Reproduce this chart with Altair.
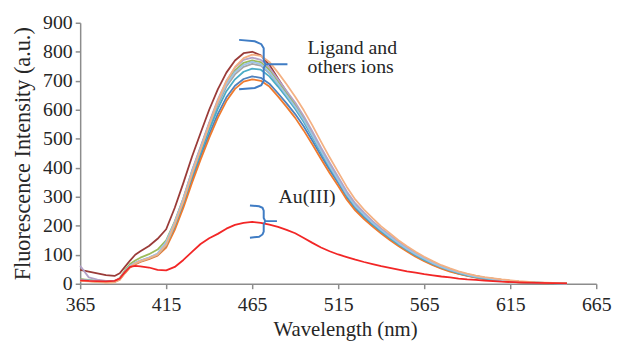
import altair as alt
import pandas as pd

wavelength = [365, 370, 375, 380, 385, 388, 391, 394, 397, 400, 405, 410, 415, 420, 425,
              430, 435, 440, 445, 450, 455, 460, 465, 470, 475, 480, 485, 490, 495, 500,
              505, 510, 515, 520, 525, 530, 535, 540, 545, 550, 555, 560, 565, 570, 575,
              580, 585, 590, 595, 600, 610, 620, 630, 640, 648]

brown = [48, 42, 36, 30, 27, 36, 58, 80, 100, 112, 130, 155, 188, 262, 348, 438, 520, 600, 670,
         728, 770, 795, 800, 788, 755, 708, 662, 615, 568, 515, 460, 408, 360, 310, 270, 240,
         212, 187, 164, 142, 122, 103, 87, 72, 59, 49, 40, 32, 26, 21, 13, 7, 4, 2, 0]
blue = [15, 12, 9, 7, 8, 17, 40, 60, 70, 78, 88, 100, 130, 195, 272, 360, 440, 515, 585, 643,
        683, 706, 715, 710, 690, 657, 622, 585, 542, 493, 442, 393, 347, 298, 259, 229, 202,
        178, 155, 133, 114, 96, 80, 66, 54, 44, 35, 28, 22, 17, 10, 5, 3, 1, 0]
orange = [11, 9, 7, 5, 6, 14, 36, 56, 67, 75, 85, 97, 125, 186, 262, 348, 428, 503, 572, 630,
          672, 697, 705, 700, 680, 646, 610, 572, 528, 480, 430, 382, 337, 290, 252, 223, 197,
          173, 151, 130, 111, 93, 78, 64, 52, 42, 34, 27, 21, 16, 9, 5, 2, 1, 0]
gray = [12, 10, 8, 6, 7, 16, 40, 60, 70, 78, 88, 101, 136, 206, 286, 378, 460, 540, 617, 680,
        722, 748, 758, 752, 726, 688, 648, 608, 562, 510, 456, 404, 356, 306, 266, 236, 208,
        183, 160, 138, 118, 100, 84, 70, 57, 47, 38, 30, 24, 19, 11, 6, 3, 1, 0]
green = [16, 13, 10, 8, 9, 20, 46, 68, 80, 90, 102, 118, 150, 215, 295, 388, 470, 552, 630, 693,
         736, 762, 770, 764, 738, 698, 658, 618, 572, 518, 463, 411, 362, 312, 272, 241, 213,
         188, 165, 142, 122, 104, 88, 73, 60, 49, 40, 32, 26, 21, 13, 7, 4, 2, 0]
purple = [62, 22, 14, 10, 10, 18, 42, 62, 72, 80, 90, 103, 142, 212, 295, 390, 472, 556, 635,
          700, 745, 772, 780, 772, 745, 705, 665, 625, 578, 525, 470, 418, 368, 318, 277, 245,
          216, 190, 167, 144, 124, 105, 89, 74, 60, 50, 40, 32, 26, 21, 13, 7, 4, 2, 0]
aqua = [13, 11, 9, 7, 8, 17, 40, 60, 70, 78, 88, 100, 133, 200, 280, 370, 450, 530, 603, 664,
        705, 731, 742, 738, 715, 680, 642, 603, 558, 506, 452, 401, 354, 304, 264, 234, 206,
        181, 158, 136, 116, 98, 82, 68, 56, 46, 37, 29, 23, 18, 11, 6, 3, 1, 0]
lightblue = [14, 12, 10, 7, 8, 18, 42, 62, 72, 80, 90, 104, 145, 212, 292, 385, 466, 548, 625,
             688, 730, 755, 765, 757, 730, 690, 650, 610, 565, 512, 458, 406, 358, 308, 268,
             238, 210, 185, 162, 140, 120, 102, 86, 71, 58, 48, 39, 31, 25, 20, 12, 7, 4, 2, 0]
salmon = [10, 8, 6, 4, 5, 14, 38, 58, 70, 78, 88, 100, 135, 205, 285, 378, 462, 548, 630, 698,
          748, 778, 790, 786, 765, 728, 688, 645, 598, 546, 490, 436, 385, 334, 290, 256, 226,
          198, 174, 150, 129, 110, 93, 78, 64, 53, 43, 35, 28, 23, 15, 9, 5, 3, 1]
au_iii = [12, 10, 9, 8, 10, 18, 40, 58, 62, 60, 56, 48, 46, 58, 82, 110, 137, 157, 172, 190,
          203, 210, 213, 210, 204, 196, 186, 174, 158, 141, 125, 112, 101, 92, 83, 75, 68, 61,
          55, 49, 43, 38, 33, 29, 25, 22, 18, 15, 13, 11, 7, 5, 3, 2, 1]

series_names = ["brown", "blue", "orange", "gray", "green", "purple", "aqua", "lightblue",
                "salmon", "Au(III)"]
series_values = [brown, blue, orange, gray, green, purple, aqua, lightblue, salmon, au_iii]
series_colors = ["#9A3B38", "#4F81BD", "#EE7A2E", "#A5A5A5", "#9BBB59", "#B3A2C7", "#4BACC6",
                 "#9DC3E6", "#F4B183", "#F22626"]

x_ticks = [365, 415, 465, 515, 565, 615, 665]
y_ticks = [0, 100, 200, 300, 400, 500, 600, 700, 800, 900]

# annotation braces (data coordinates), drawn point by point in order k
brace_id = ["top"] * 13 + ["low"] * 13
brace_x = [457.4, 466.5, 470.3, 471.7, 471.7, 472.8, 485.5, 472.8, 471.7, 471.7, 470.3, 466.5, 457.4,
           463.7, 469.0, 471.0, 471.7, 471.7, 472.6, 479.4, 472.6, 471.7, 471.7, 471.0, 469.0, 463.7]
brace_y = [841, 836, 826, 812, 770, 757, 757, 757, 743, 700, 685, 675, 671,
           270, 267, 262, 252, 227, 216, 216, 216, 205, 180, 170, 162, 159]

label_text = ["Ligand and", "others ions", "Au(III)"]
label_x = [497.2, 497.2, 480.3]
label_y = [792, 727, 280]

rows = []
for name, vals in zip(series_names, series_values):
    for w, v in zip(wavelength, vals):
        rows.append({"series": name, "wavelength": w, "intensity": v})
df = pd.DataFrame(rows)

bdf = pd.DataFrame({"brace": brace_id, "wavelength": brace_x, "intensity": brace_y,
                    "k": list(range(len(brace_x)))})
tdf = pd.DataFrame({"t": label_text, "wavelength": label_x, "intensity": label_y})

FONT = "Liberation Serif"
TXT = "#262626"
AX = "#8C8C8C"

xs = alt.Scale(domain=[365, 665], nice=False, zero=False)
ys = alt.Scale(domain=[0, 900], nice=False)
cs = alt.Scale(domain=series_names, range=series_colors)

X = alt.X("wavelength:Q", scale=xs,
          axis=alt.Axis(values=x_ticks, title="Wavelength (nm)", grid=False,
                        labelFlush=False, labelOverlap=False, labelPadding=6,
                        titlePadding=4, titleX=268, format="d",
                        domainColor=AX, domainWidth=1.5, tickColor=AX, tickWidth=1.5,
                        tickSize=5, labelFont=FONT, labelFontSize=20, labelColor=TXT,
                        titleFont=FONT, titleFontSize=21, titleFontWeight="normal",
                        titleColor=TXT))
Y = alt.Y("intensity:Q", scale=ys,
          axis=alt.Axis(values=y_ticks, title="Fluorescence Intensity (a.u.)",
                        grid=False, labelOverlap=False, labelPadding=3,
                        titlePadding=8, format="d",
                        domainColor=AX, domainWidth=1.5, tickColor=AX, tickWidth=1.5,
                        tickSize=5, labelFont=FONT, labelFontSize=20, labelColor=TXT,
                        titleFont=FONT, titleFontSize=22.5, titleFontWeight="normal",
                        titleColor=TXT))

layers = []
for name in series_names:
    layers.append(
        alt.Chart(df).transform_filter(alt.datum.series == name)
        .mark_line(strokeWidth=1.8, strokeJoin="round")
        .encode(x=X, y=Y, color=alt.Color("series:N", scale=cs, legend=None))
    )

braces = alt.Chart(bdf).mark_line(color="#3F7CC4", strokeWidth=2).encode(
    x=X, y=Y, detail="brace:N", order="k:Q",
)

texts = alt.Chart(tdf).mark_text(align="left", baseline="alphabetic", font=FONT,
                                 fontSize=20, color=TXT).encode(
    x=X, y=Y, text="t:N",
)

chart = alt.layer(*layers, braces, texts).properties(
    width=522, height=264,
    autosize=alt.AutoSizeParams(type="none"),
    padding={"left": 73, "top": 13, "right": 20, "bottom": 58},
).configure_view(stroke=None)

chart.save("out.html", embed_options={"renderer": "svg", "actions": False})
